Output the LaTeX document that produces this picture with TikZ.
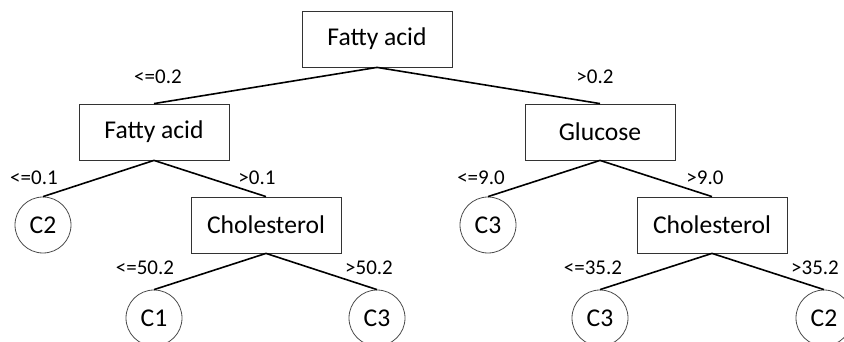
\documentclass[tikz,border=0pt]{standalone}
\usepackage{fontspec}
\setmainfont{Carlito}
\begin{document}
\begin{tikzpicture}[x=1pt, y=-1pt,
	attr/.style={draw=black!80, line width=0.8pt, minimum width=150pt, minimum height=56pt, inner sep=0pt, font=\fontsize{25.6}{30}\selectfont},
	leaf/.style={circle, draw=black!70, line width=0.8pt, minimum size=56pt, inner sep=0pt, font=\fontsize{25.6}{30}\selectfont},
	cond/.style={inner sep=0pt, font=\fontsize{21}{25}\selectfont},
	edge/.style={line width=1.6pt}]
	\useasboundingbox (0, 0) rectangle (844, 342);
	% decision nodes
	\node[attr] (root) at (377, 39) {Fatty acid};
	\node[attr] (fatty) at (154, 132) {Fatty acid};
	\node[attr] (glucose) at (600, 132) {Glucose};
	\node[attr] (cholL) at (266, 225) {Cholesterol};
	\node[attr] (cholR) at (712, 225) {Cholesterol};
	% leaves
	\node[leaf] (c2a) at (43, 225) {C2};
	\node[leaf] (c1) at (154, 318) {C1};
	\node[leaf] (c3a) at (377, 318) {C3};
	\node[leaf] (c3b) at (488, 225) {C3};
	\node[leaf] (c3c) at (600, 318) {C3};
	\node[leaf] (c2b) at (824, 318) {C2};
	% branches
	\draw[edge] (root.south) -- (fatty.north);
	\draw[edge] (root.south) -- (glucose.north);
	\draw[edge] (fatty.south) -- (c2a.north);
	\draw[edge] (fatty.south) -- (cholL.north);
	\draw[edge] (cholL.south) -- (c1.north);
	\draw[edge] (cholL.south) -- (c3a.north);
	\draw[edge] (glucose.south) -- (c3b.north);
	\draw[edge] (glucose.south) -- (cholR.north);
	\draw[edge] (cholR.south) -- (c3c.north);
	\draw[edge] (cholR.south) -- (c2b.north);
	% split values
	\node[cond] (l1) at (158, 77) {<=0.2};
	\node[cond] (r1) at (595, 77) {>0.2};
	\node[cond] (l2) at (34, 178) {<=0.1};
	\node[cond] (r2) at (257, 178) {>0.1};
	\node[cond] (l3) at (481, 178) {<=9.0};
	\node[cond] (r3) at (705, 178) {>9.0};
	\node[cond] (l4) at (145, 268) {<=50.2};
	\node[cond] (r4) at (369, 268) {>50.2};
	\node[cond] (l5) at (593, 268) {<=35.2};
	\node[cond] (r5) at (815, 268) {>35.2};
\end{tikzpicture}
\end{document}
